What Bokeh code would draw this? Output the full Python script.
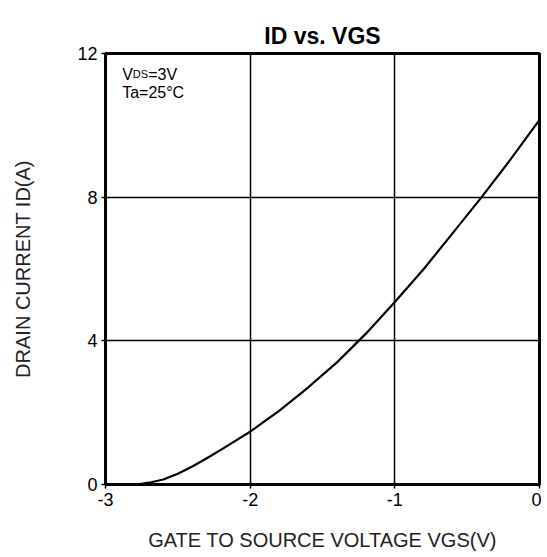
from bokeh.plotting import figure
from bokeh.models import Range1d, FixedTicker, Label
from bokeh.embed import file_html
from bokeh.resources import INLINE

vgs = [-2.78, -2.7, -2.6, -2.5, -2.4, -2.3, -2.2, -2.1, -2.0, -1.8, -1.6, -1.4,
       -1.2, -1.0, -0.8, -0.6, -0.4, -0.2, 0.0]
id_a = [0.0, 0.05, 0.14, 0.3, 0.5, 0.73, 0.97, 1.22, 1.47, 2.05, 2.7, 3.4,
        4.2, 5.08, 6.0, 7.0, 8.0, 9.05, 10.15]
x_ticks = [-3, -2, -1, 0]
y_ticks = [0, 4, 8, 12]

FONT = "Liberation Sans"

p = figure(width=541, height=553, output_backend="svg", toolbar_location=None,
           x_range=Range1d(-3, 0), y_range=Range1d(0, 12),
           min_border_left=105, min_border_right=2, min_border_top=53, min_border_bottom=69)
p.title.text = "ID vs. VGS"
p.title.align = "center"
p.title.text_font = FONT
p.title.text_font_size = "23px"
p.title.text_font_style = "bold"
p.title.text_color = "black"
p.title.text_line_height = 1.7
p.title.offset = -12
p.title.standoff = 10

p.outline_line_color = "black"
p.outline_line_width = 3
p.outline_line_alpha = 1

for ax, ticks in ((p.xaxis, x_ticks), (p.yaxis, y_ticks)):
    ax.ticker = FixedTicker(ticks=ticks)
    ax.major_label_overrides = {t: str(t) for t in ticks}
    ax.axis_line_color = "black"
    ax.axis_line_width = 3
    ax.major_tick_line_color = "black"
    ax.major_tick_line_width = 1.5
    ax.major_tick_in = 0
    ax.major_tick_out = 4
    ax.minor_tick_line_color = None
    ax.major_label_text_font = FONT
    ax.major_label_text_font_size = "18px"
    ax.major_label_text_color = "black"
    ax.axis_label_text_font = FONT
    ax.axis_label_text_font_size = "20px"
    ax.axis_label_text_font_style = "normal"
    ax.axis_label_text_color = "#222222"

p.xaxis.axis_label = "GATE TO SOURCE VOLTAGE VGS(V)"
p.yaxis.axis_label = "DRAIN CURRENT ID(A)"
p.xaxis.major_label_standoff = 4
p.xaxis.axis_label_standoff = 20
p.yaxis.major_label_standoff = 4
p.yaxis.axis_label_standoff = 40

p.xgrid.ticker = FixedTicker(ticks=x_ticks)
p.ygrid.ticker = FixedTicker(ticks=y_ticks)
for g in (p.xgrid, p.ygrid):
    g.grid_line_color = "black"
    g.grid_line_width = 1.5
    g.grid_line_alpha = 1

p.line(vgs, id_a, line_color="black", line_width=2.2)

tx, ty1, ty2 = -2.885, 11.42, 10.92
p.add_layout(Label(x=tx, y=ty1, text="V", text_font=FONT,
                   text_font_size="16px", text_color="black", text_baseline="alphabetic"))
p.add_layout(Label(x=tx, y=ty1, x_offset=10.7, text="DS", text_font=FONT,
                   text_font_size="11px", text_color="black", text_baseline="alphabetic"))
p.add_layout(Label(x=tx, y=ty1, x_offset=26, text="=3V", text_font=FONT,
                   text_font_size="16px", text_color="black", text_baseline="alphabetic"))
p.add_layout(Label(x=tx, y=ty2, text="Ta=25°C", text_font=FONT,
                   text_font_size="16px", text_color="black", text_baseline="alphabetic"))

open("out.html", "w").write(file_html(p, INLINE))
